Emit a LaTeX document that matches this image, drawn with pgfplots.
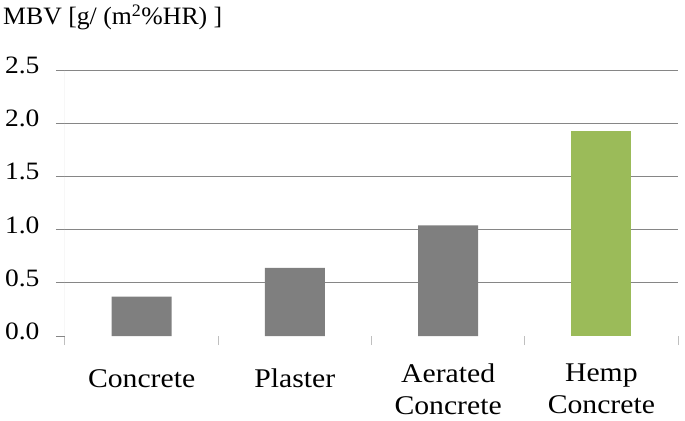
\documentclass[border=0pt]{standalone}
\usepackage{fontspec}
\setmainfont{Liberation Serif}
\newfontfamily\wide[FakeStretch=1.1]{Liberation Serif}
\usepackage{pgfplots}
\pgfplotsset{compat=1.18}
\definecolor{bargray}{HTML}{7F7F7F}
\definecolor{bargreen}{HTML}{9BBB59}
\definecolor{gridcol}{HTML}{868686}
\definecolor{axiscol}{HTML}{BFBFBF}

\begin{document}
\begin{tikzpicture}
\begin{axis}[
  scale only axis, width=613bp, height=266bp,
  xmin=0.5, xmax=4.5, ymin=0, ymax=2.5,
  axis line style={draw=none},
  tick align=outside, xtick pos=bottom, ytick pos=left,
  xtick={0.5,1.5,2.5,3.5,4.5},
  x tick label as interval,
  xticklabels={\rule{0pt}{24bp}Concrete, \rule{0pt}{24bp}Plaster,
    Aerated\\[-1bp]Concrete, Hemp\\[-1bp]Concrete},
  x tick style={draw=axiscol, line width=1bp},
  major tick length=9bp,
  xticklabel style={align=center, anchor=north, yshift=-15bp,
    font=\wide\fontsize{27bp}{33bp}\selectfont},
  ytick={0.5,1,1.5,2,2.5},
  extra y ticks={0},
  extra y tick style={grid=none, tick style={draw=none}},
  y tick style={draw=gridcol, line width=1bp},
  ymajorgrids, grid style={draw=gridcol, line width=1bp},
  /pgf/number format/assume math mode=true,
  yticklabel style={/pgf/number format/.cd, fixed, fixed zerofill, precision=1,
    /tikz/.cd, xshift=-13bp, yshift=4.5bp,
    font=\wide\fontsize{25bp}{30bp}\selectfont},
]
\addplot[ybar, bar width=0.39, bar shift=0pt, fill=bargray, draw=none]
  coordinates {(1,0.37) (2,0.64) (3,1.04)};
\addplot[ybar, bar width=0.39, bar shift=0pt, fill=bargreen, draw=none]
  coordinates {(4,1.93)};
\draw[axiscol, line width=1bp] (rel axis cs:0,0) -- (rel axis cs:0,1);
\end{axis}
\node[anchor=base west, inner sep=0pt, font=\fontsize{25bp}{30bp}\selectfont]
  at (-62bp,311bp) {\addfontfeature{FakeStretch=1.03}MBV [g/ (m\textsuperscript{2}\%HR) ]};
\pgfresetboundingbox
\path[use as bounding box] (-65bp,-85bp) rectangle (620bp,336bp);
\end{tikzpicture}
\end{document}
